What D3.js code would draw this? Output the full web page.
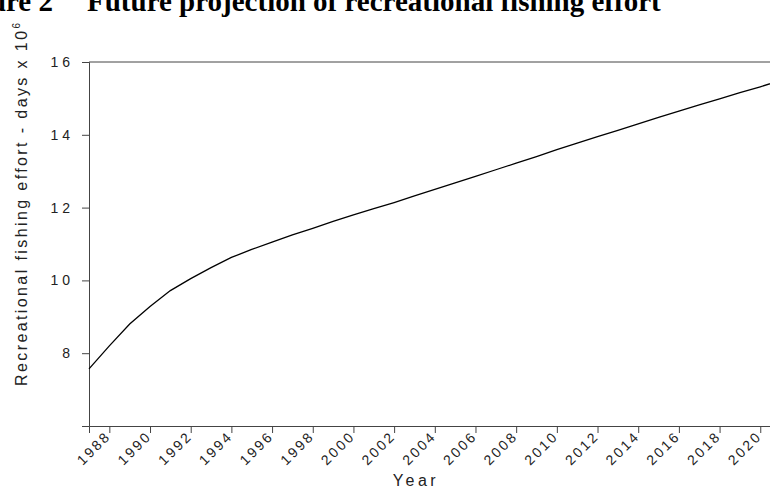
<!DOCTYPE html>
<html>
<head>
<style>
  body{
    margin: 0;
    background: white;
    font-family: 'Liberation Sans', Arial, sans-serif;
  }
</style>
</head>
<body>
<svg id='svgVis'></svg>

<script src="https://cdn.jsdelivr.net/npm/d3@7/dist/d3.min.js"></script>
<script>

var years = [1987, 1988, 1989, 1990, 1991, 1992, 1993, 1994, 1995, 1996,
             1997, 1998, 1999, 2000, 2001, 2002, 2003, 2004, 2005, 2006,
             2007, 2008, 2009, 2010, 2011, 2012, 2013, 2014, 2015, 2016,
             2017, 2018, 2019, 2020, 2021];

var effort = [7.57, 8.2, 8.8, 9.28, 9.72, 10.05, 10.35, 10.63, 10.85, 11.05,
              11.25, 11.43, 11.62, 11.8, 11.97, 12.14, 12.32, 12.5, 12.68, 12.86,
              13.04, 13.22, 13.4, 13.59, 13.77, 13.95, 14.12, 14.3, 14.48, 14.65,
              14.82, 14.99, 15.16, 15.32, 15.49];

var xTicks = [1988, 1990, 1992, 1994, 1996, 1998, 2000, 2002, 2004, 2006,
              2008, 2010, 2012, 2014, 2016, 2018, 2020];

var yTicks = [6, 8, 10, 12, 14, 16];

var width = 770,
    height = 489;

var svg = d3.select("#svgVis")
    .attr("width", width)
    .attr("height", height);

var x = d3.scaleLinear()
    .domain([1987, 2021])
    .range([89, 780.6]);

var y = d3.scaleLinear()
    .domain([6, 16])
    .range([426, 62]);

// title, mostly cut off at the top edge like the original
svg.append("text")
  .attr("x", 53)
  .attr("y", 11)
  .attr("text-anchor", "end")
  .style("font-family", "'Liberation Serif', 'Times New Roman', serif")
  .style("font-weight", "bold")
  .style("font-size", "29px")
  .text("Figure 2");

svg.append("text")
  .attr("x", 87)
  .attr("y", 11)
  .style("font-family", "'Liberation Serif', 'Times New Roman', serif")
  .style("font-weight", "bold")
  .style("font-size", "29px")
  .text("Future projection of recreational fishing effort");

// top border
svg.append("line")
  .attr("x1", x(1987))
  .attr("x2", x(2021))
  .attr("y1", y(16))
  .attr("y2", y(16))
  .attr("stroke", "#444")
  .attr("stroke-width", 1);

var yAxis = svg.append("g")
  .attr("transform", "translate(" + x(1987) + ",0)")
  .call(d3.axisLeft(y)
    .tickValues(yTicks)
    .tickSize(7)
    .tickSizeOuter(7)
    .tickFormat(function(d) { return d == 6 ? "" : d; }));

yAxis.selectAll("text")
  .attr("x", -15)
  .style("font-size", "14px")
  .style("letter-spacing", "4px")
  .style("fill", "#222");

var xAxis = svg.append("g")
  .attr("transform", "translate(0," + y(6) + ")")
  .call(d3.axisBottom(x)
    .tickValues(xTicks)
    .tickSize(7)
    .tickSizeOuter(7)
    .tickFormat(d3.format("d")));

xAxis.selectAll("text")
  .attr("y", 0)
  .attr("dy", 0)
  .attr("text-anchor", "end")
  .attr("transform", "translate(2,11) rotate(-45)")
  .style("font-size", "14px")
  .style("letter-spacing", "2.5px")
  .style("fill", "#222");

svg.selectAll(".domain, .tick line")
  .attr("stroke", "#444");

// line
var line = d3.line()
  .x(function(d, i) { return x(years[i]); })
  .y(function(d) { return y(d); });

svg.append("path")
  .datum(effort)
  .attr("d", line)
  .attr("fill", "none")
  .attr("stroke", "black")
  .attr("stroke-width", 1.3);

// axis titles
svg.append("text")
  .attr("x", 416)
  .attr("y", 486)
  .attr("text-anchor", "middle")
  .style("font-size", "16px")
  .style("letter-spacing", "3.5px")
  .style("fill", "#222")
  .text("Year");

var yLabel = svg.append("text")
  .attr("transform", "translate(27,386) rotate(-90)")
  .style("font-size", "16px")
  .style("letter-spacing", "2.4px")
  .style("fill", "#222");

yLabel.append("tspan").text("Recreational fishing effort - days x 10");
yLabel.append("tspan")
  .attr("dy", -7)
  .style("font-size", "10px")
  .text("6");

</script>
</body>
</html>
